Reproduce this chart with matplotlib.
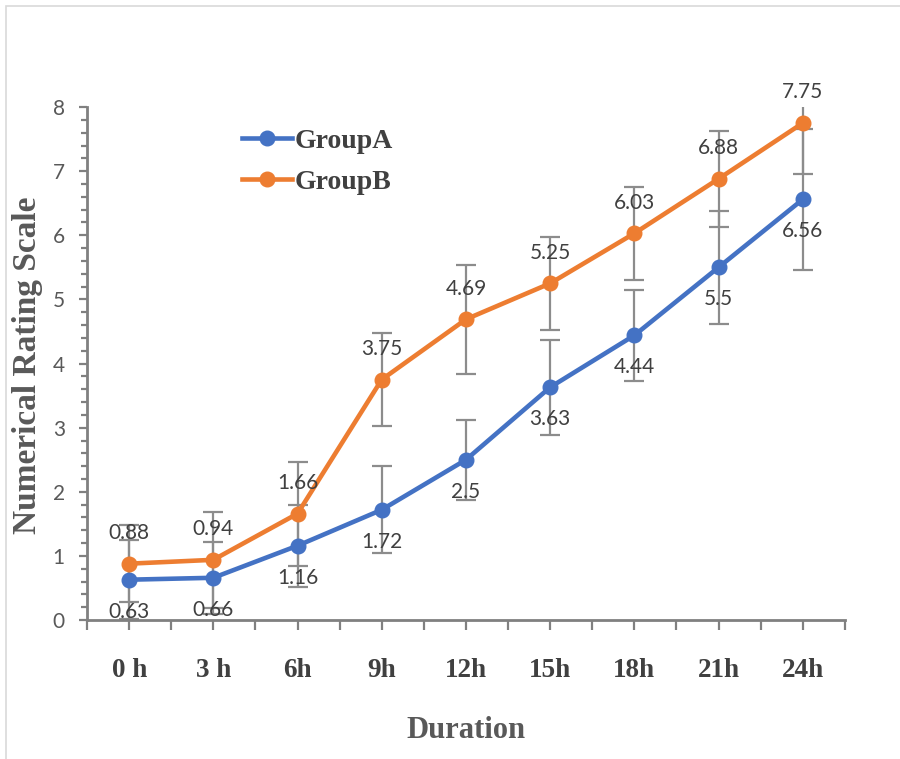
import numpy as np
import matplotlib
matplotlib.use('Agg')
import matplotlib.pyplot as plt
from matplotlib.patches import Rectangle
from matplotlib.ticker import MultipleLocator

# data
durations = ['0 h', '3 h', '6h', '9h', '12h', '15h', '18h', '21h', '24h']
group_a = [0.63, 0.66, 1.16, 1.72, 2.5, 3.63, 4.44, 5.5, 6.56]
group_b = [0.88, 0.94, 1.66, 3.75, 4.69, 5.25, 6.03, 6.88, 7.75]
err_a = [0.62, 0.56, 0.64, 0.68, 0.62, 0.74, 0.71, 0.88, 1.10]
err_b = [0.60, 0.75, 0.81, 0.73, 0.85, 0.72, 0.73, 0.75, 0.80]

blue = '#4472C4'
orange = '#ED7D31'
axis_gray = '#808080'
serif = ['Liberation Serif', 'DejaVu Serif']
sans = ['Lato', 'DejaVu Sans']

fig = plt.figure(figsize=(9, 7.59), dpi=100)
ax = fig.add_axes([0.0967, 0.183, 0.842, 0.676])

# light outer frame
fig.patches.append(Rectangle((6 / 900, -0.1), 1.2, 1 - 6 / 759 + 0.1, transform=fig.transFigure,
                             fill=False, edgecolor='#d9d9d9', linewidth=1.2))

x = np.arange(len(durations))

# error bars first, lines on top
ax.errorbar(x, group_b, yerr=err_b, fmt='none', ecolor='#8c8c8c', elinewidth=1.6,
            capsize=7, capthick=1.6, zorder=2)
ax.errorbar(x, group_a, yerr=err_a, fmt='none', ecolor='#8c8c8c', elinewidth=1.6,
            capsize=7, capthick=1.6, zorder=2)
ax.plot(x, group_a, color=blue, lw=3.3, marker='o', ms=10.5, label='GroupA', zorder=3)
ax.plot(x, group_b, color=orange, lw=3.3, marker='o', ms=10.5, label='GroupB', zorder=3)

# data labels: B above, A below
for xi, v in zip(x, group_b):
    ax.annotate(f'{v:g}', (xi, v), xytext=(0, 22), textcoords='offset points',
                ha='center', va='center', fontsize=15, color='#404040', family=sans, zorder=4)
for xi, v in zip(x, group_a):
    ax.annotate(f'{v:g}', (xi, v), xytext=(0, -23), textcoords='offset points',
                ha='center', va='center', fontsize=15, color='#404040', family=sans, zorder=4)

ax.set_xlim(-0.5, len(durations) - 0.5)
ax.set_ylim(0, 8)
ax.set_xticks(x)
ax.set_xticklabels(durations, fontsize=19.5, fontweight='bold', family=serif, color='#404040')
ax.set_xticks(np.arange(-0.5, len(durations), 1.0), minor=True)
ax.yaxis.set_major_locator(MultipleLocator(1))
ax.yaxis.set_minor_locator(MultipleLocator(0.2))
for lab in ax.get_yticklabels():
    lab.set_family(sans)
ax.tick_params(axis='y', labelsize=15, labelcolor='#595959', colors=axis_gray,
               length=6, width=1.6, pad=10)
ax.tick_params(axis='y', which='minor', colors=axis_gray, length=4, width=1.6)
ax.tick_params(axis='x', which='both', colors=axis_gray, length=7, width=1.6, pad=20)
ax.tick_params(axis='x', labelcolor='#404040')

for s in ['top', 'right']:
    ax.spines[s].set_visible(False)
for s in ['left', 'bottom']:
    ax.spines[s].set_color(axis_gray)
    ax.spines[s].set_linewidth(2)

ax.set_xlabel('Duration', fontsize=22, fontweight='bold', family=serif, color='#595959', labelpad=24)
ax.set_ylabel('Numerical Rating Scale', fontsize=24, fontweight='bold', family=serif,
              color='#595959')
ax.yaxis.set_label_coords(-0.058, 0.497)

leg = ax.legend(loc='upper left', bbox_to_anchor=(0.186, 0.985), frameon=False,
                prop={'family': serif, 'weight': 'bold', 'size': 20},
                handlelength=1.8, handletextpad=0.1, labelspacing=0.55, borderpad=0)
for t in leg.get_texts():
    t.set_color('#404040')

fig.savefig('out.png', dpi=100)
